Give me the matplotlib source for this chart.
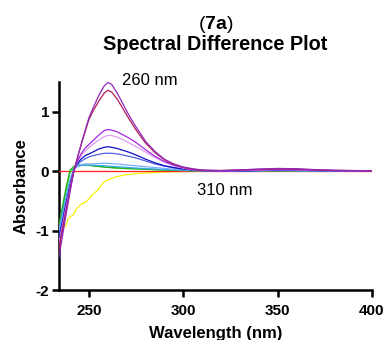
import matplotlib
matplotlib.use("Agg")
import matplotlib.pyplot as plt

# wavelength grid (nm) shared by the titration spectra
wavelength = [234, 236, 238, 240, 242, 244, 246, 248, 250, 252, 255, 258, 260, 262,
              265, 268, 271, 275, 280, 285, 290, 295, 300, 305, 310, 320, 330, 340,
              350, 360, 370, 380, 390, 400]

abs_purple = [-1.46, -1.08, -0.70, -0.34, 0.00, 0.24, 0.47, 0.69, 0.90, 1.05, 1.26, 1.43,
              1.49, 1.46, 1.31, 1.13, 0.95, 0.74, 0.50, 0.33, 0.20, 0.12, 0.07, 0.04,
              0.02, 0.01, 0.02, 0.035, 0.045, 0.04, 0.025, 0.015, 0.01, 0.005]
abs_maroon = [-1.32, -0.98, -0.64, -0.30, 0.01, 0.24, 0.46, 0.67, 0.87, 1.00, 1.17, 1.31,
              1.36, 1.33, 1.21, 1.05, 0.89, 0.69, 0.47, 0.31, 0.19, 0.11, 0.06, 0.03,
              0.01, 0.01, 0.02, 0.03, 0.04, 0.035, 0.02, 0.012, 0.008, 0.004]
abs_violet = [-1.28, -0.95, -0.62, -0.30, 0.00, 0.18, 0.30, 0.39, 0.45, 0.51, 0.60, 0.68,
              0.70, 0.69, 0.66, 0.61, 0.56, 0.48, 0.36, 0.25, 0.16, 0.10, 0.06, 0.03,
              0.01, 0.005, 0.01, 0.02, 0.03, 0.025, 0.015, 0.01, 0.005, 0.0]
abs_plum = [-1.22, -0.90, -0.58, -0.27, 0.02, 0.17, 0.27, 0.34, 0.40, 0.45, 0.52, 0.58,
            0.60, 0.60, 0.57, 0.53, 0.48, 0.41, 0.32, 0.23, 0.15, 0.09, 0.05, 0.025,
            0.01, 0.005, 0.01, 0.015, 0.025, 0.02, 0.012, 0.008, 0.004, 0.0]
abs_navy = [-1.15, -0.84, -0.53, -0.24, 0.03, 0.14, 0.21, 0.26, 0.29, 0.32, 0.37, 0.40,
            0.41, 0.40, 0.38, 0.35, 0.32, 0.27, 0.20, 0.14, 0.09, 0.06, 0.035, 0.02,
            0.01, 0.0, 0.005, 0.01, 0.02, 0.015, 0.01, 0.005, 0.0, 0.0]
abs_blue = [-1.10, -0.80, -0.50, -0.22, 0.04, 0.12, 0.17, 0.21, 0.24, 0.26, 0.28, 0.30,
            0.30, 0.30, 0.29, 0.27, 0.25, 0.22, 0.17, 0.12, 0.085, 0.055, 0.035, 0.02,
            0.01, 0.0, 0.005, 0.01, 0.015, 0.012, 0.008, 0.004, 0.0, 0.0]
abs_skyblue = [-1.05, -0.75, -0.46, -0.19, 0.04, 0.09, 0.11, 0.12, 0.12, 0.12, 0.13, 0.13,
               0.13, 0.125, 0.12, 0.11, 0.10, 0.09, 0.075, 0.06, 0.045, 0.033, 0.023,
               0.015, 0.01, 0.005, 0.005, 0.01, 0.012, 0.01, 0.006, 0.003, 0.0, 0.0]
abs_cyan = [-1.00, -0.70, -0.40, -0.14, 0.04, 0.08, 0.095, 0.10, 0.10, 0.10, 0.095, 0.09,
            0.085, 0.08, 0.075, 0.068, 0.06, 0.052, 0.043, 0.035, 0.027, 0.02, 0.015,
            0.01, 0.005, 0.0, 0.003, 0.006, 0.008, 0.006, 0.004, 0.002, 0.0, 0.0]
abs_green = [-0.92, -0.58, -0.25, 0.02, 0.08, 0.105, 0.11, 0.105, 0.10, 0.09, 0.08, 0.07,
             0.065, 0.06, 0.055, 0.05, 0.045, 0.04, 0.032, 0.026, 0.02, 0.015, 0.011,
             0.008, 0.005, 0.002, 0.003, 0.005, 0.006, 0.005, 0.003, 0.002, 0.0, 0.0]
abs_lime = [-0.97, -0.64, -0.31, -0.02, 0.06, 0.09, 0.10, 0.10, 0.095, 0.088, 0.078, 0.068,
            0.062, 0.057, 0.05, 0.045, 0.04, 0.035, 0.028, 0.022, 0.017, 0.013, 0.01,
            0.007, 0.004, 0.002, 0.002, 0.004, 0.005, 0.004, 0.002, 0.001, 0.0, 0.0]
abs_red = [0.0] * len(wavelength)

# the yellow trace was recorded on a finer, noisier grid
wavelength_y = [234, 235, 236, 237, 238, 239, 240, 241, 242, 243, 244, 245, 246, 247, 248,
                249, 250, 251, 252, 253, 254, 255, 256, 257, 258, 260, 262, 264, 266, 268,
                270, 274, 278, 282, 286, 290, 295, 300, 305, 310, 320, 340, 360, 380, 400]
abs_yellow = [-1.05, -1.00, -0.97, -0.94, -0.90, -0.80, -0.77, -0.75, -0.72, -0.65, -0.61,
              -0.58, -0.55, -0.54, -0.52, -0.50, -0.46, -0.43, -0.40, -0.36, -0.34, -0.30,
              -0.26, -0.22, -0.18, -0.15, -0.12, -0.10, -0.085, -0.07, -0.06, -0.045,
              -0.035, -0.028, -0.02, -0.016, -0.012, -0.008, -0.005, -0.003, 0.0, 0.0,
              0.0, 0.0, 0.0]

series = [
    (abs_red, "#ff2020"),
    (abs_lime, "#3ddc3d"),
    (abs_green, "#1fae1f"),
    (abs_cyan, "#3aa8e8"),
    (abs_skyblue, "#78acff"),
    (abs_blue, "#4f62e6"),
    (abs_navy, "#0c10c4"),
    (abs_plum, "#df9cf2"),
    (abs_violet, "#a526e0"),
    (abs_maroon, "#b01e5a"),
    (abs_purple, "#9028b8"),
]

plt.rcParams["font.family"] = ["Liberation Sans", "DejaVu Sans"]
plt.rcParams["mathtext.fontset"] = "custom"
plt.rcParams["mathtext.bf"] = "Liberation Sans:bold"
plt.rcParams["mathtext.rm"] = "Liberation Sans"

fig = plt.figure(figsize=(3.87, 3.40), dpi=100)
ax = fig.add_axes([0.152, 0.147, 0.809, 0.612])

ax.plot(wavelength_y, abs_yellow, color="#f4f400", lw=0.9, zorder=2)
for vals, col in series:
    ax.plot(wavelength, vals, color=col, lw=0.9, zorder=3)

ax.set_xlim(234, 400)
ax.set_ylim(-2, 1.5)
ax.set_xticks([250, 300, 350, 400])
ax.set_yticks([-2, -1, 0, 1])
ax.set_yticklabels(["-2", "-1", "0", "1"])

for side in ["top", "right"]:
    ax.spines[side].set_visible(False)
for side in ["left", "bottom"]:
    ax.spines[side].set_linewidth(1.8)
ax.tick_params(direction="out", length=5, width=1.8, labelsize=11)
ax.tick_params(axis="x", pad=5)
ax.tick_params(axis="y", pad=2)
for lab in ax.get_xticklabels() + ax.get_yticklabels():
    lab.set_fontweight("bold")

ax.set_xlabel("Wavelength (nm)", fontsize=12, fontweight="bold", labelpad=6)
ax.set_ylabel("Absorbance", fontsize=12, fontweight="bold", labelpad=5)

ax.text(267.5, 1.53, "260 nm", fontsize=12, va="center", ha="left", clip_on=False)
ax.text(307, -0.32, "310 nm", fontsize=12, va="center", ha="left")

# two-line heading: "(7a)" with bold label, then the plot name
fig.text(0.557, 0.916, r"($\mathbf{7a}$)", fontsize=14, ha="center", va="baseline")
fig.text(0.557, 0.853, "Spectral Difference Plot", fontsize=14.3, fontweight="bold",
         ha="center", va="baseline")

fig.savefig("out.png", dpi=100)
